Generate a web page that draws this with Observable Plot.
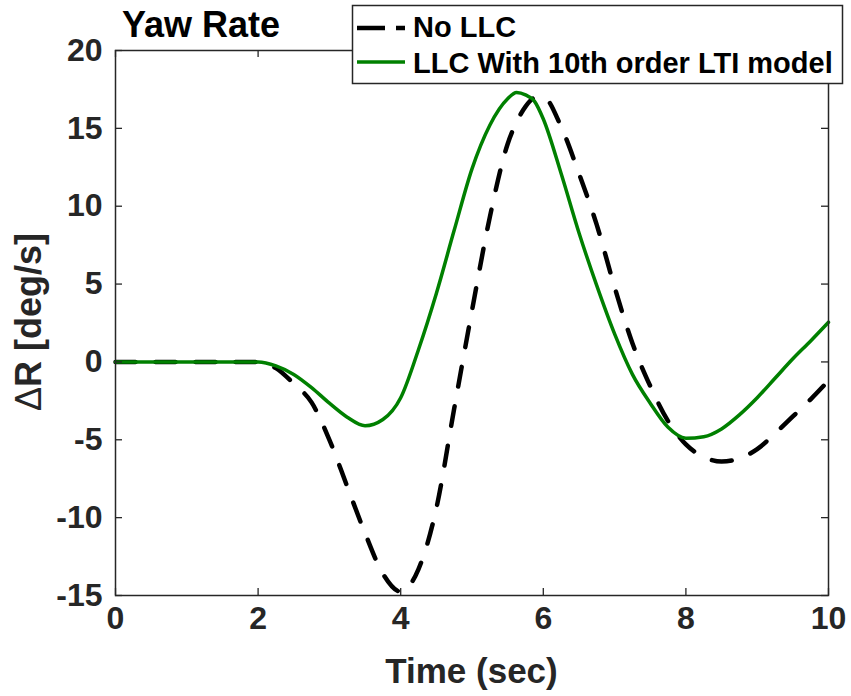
<!DOCTYPE html>
<html>
<head>
<meta charset="utf-8">
<script src="https://cdn.jsdelivr.net/npm/d3@7"></script>
<script src="https://cdn.jsdelivr.net/npm/@observablehq/plot@0.6"></script>
<style>
  html, body { margin: 0; padding: 0; background: #fff; }
  #chart { position: relative; width: 851px; height: 696px; }
  #chart svg { font-family: "Liberation Sans", Arial, Helvetica, sans-serif; }
</style>
</head>
<body>
<div id="chart"></div>
<script>
// Yaw-rate response (deg/s) over time (sec)
const time = [0, 1, 2, 2.25, 2.5, 2.75, 3, 3.25, 3.5, 3.75, 4, 4.25, 4.5, 4.75, 5, 5.25, 5.5, 5.625, 5.75, 5.875,
              6, 6.25, 6.5, 6.75, 7, 7.25, 7.5, 7.75, 8, 8.25, 8.5, 8.75, 9, 9.25, 9.5, 9.75, 10];
const noLLC = [0, 0, 0, -0.4, -1.4, -2.6, -5.0, -8.0, -11.0, -13.6, -14.75, -13.3, -9.4, -3.0, 3.3, 9.3, 14.0, 15.4, 16.4, 16.95,
               17.0, 15.1, 12.1, 8.8, 4.8, 1.2, -1.55, -3.8, -5.3, -6.1, -6.4, -6.2, -5.6, -4.6, -3.5, -2.4, -1.2];
const llcLTI = [0, 0, 0, -0.25, -0.8, -1.65, -2.65, -3.55, -4.1, -3.7, -2.3, 0.8, 4.4, 8.45, 12.4, 15.2, 16.9, 17.3, 17.15, 16.75,
                15.6, 12.1, 8.3, 4.9, 1.8, -0.8, -2.65, -4.2, -4.9, -4.8, -4.3, -3.4, -2.3, -1.05, 0.2, 1.35, 2.55];

const seriesNames = ["No LLC", "LLC With 10th order LTI model"];
const xTicks = [0, 2, 4, 6, 8, 10];
const yTicks = [-15, -10, -5, 0, 5, 10, 15, 20];

const rowsNo = time.map((t, i) => ({time: t, value: noLLC[i]}));
const rowsLLC = time.map((t, i) => ({time: t, value: llcLTI[i]}));

const W = 851, H = 696;
const mL = 115, mR = 23, mT = 50, mB = 101;
const frameW = W - mL - mR, frameH = H - mT - mB;
const tickLen = 7;
const axisColor = "#262626";
const green = "#008000";

const chart = Plot.plot({
  width: W,
  height: H,
  marginLeft: mL,
  marginRight: mR,
  marginTop: mT,
  marginBottom: mB,
  x: {domain: [0, 10]},
  y: {domain: [-15, 20]},
  marks: [
    Plot.line(rowsNo, {x: "time", y: "value", stroke: "#000", strokeWidth: 4.5,
      strokeDasharray: "20,20", curve: "monotone-x"}),
    Plot.line(rowsLLC, {x: "time", y: "value", stroke: green, strokeWidth: 3.5, curve: "monotone-x"}),
    // inward ticks on all four sides
    Plot.tickY(yTicks, {y: d => d, stroke: axisColor, strokeWidth: 1.3, insetRight: frameW - tickLen}),
    Plot.tickY(yTicks, {y: d => d, stroke: axisColor, strokeWidth: 1.3, insetLeft: frameW - tickLen}),
    Plot.tickX(xTicks, {x: d => d, stroke: axisColor, strokeWidth: 1.3, insetTop: frameH - tickLen}),
    Plot.tickX(xTicks, {x: d => d, stroke: axisColor, strokeWidth: 1.3, insetBottom: frameH - tickLen}),
    Plot.frame({stroke: axisColor, strokeWidth: 1.5}),
    Plot.axisX({ticks: xTicks, tickSize: 0, tickPadding: 11, label: null, tickFormat: d => String(d),
      fontSize: 32, fontWeight: "bold", fill: axisColor}),
    Plot.axisY({ticks: yTicks, tickSize: 0, tickPadding: 13, label: null, tickFormat: d => String(d),
      fontSize: 32, fontWeight: "bold", fill: axisColor})
  ]
});

document.getElementById("chart").appendChild(chart);

const svg = d3.select(chart);
const font = `"Liberation Sans", Arial, Helvetica, sans-serif`;

// title
svg.append("text")
  .attr("x", 122).attr("y", 37)
  .attr("text-anchor", "start")
  .attr("font-family", font).attr("font-size", 36).attr("font-weight", "bold")
  .attr("fill", "#000")
  .text("Yaw Rate");

// x-axis title
svg.append("text")
  .attr("x", mL + frameW / 2).attr("y", 683)
  .attr("text-anchor", "middle")
  .attr("font-family", font).attr("font-size", 35).attr("font-weight", "bold")
  .attr("fill", axisColor)
  .text("Time (sec)");

// y-axis title
const yt = svg.append("text")
  .attr("transform", `translate(41,${mT + frameH / 2 - 0.5}) rotate(-90)`)
  .attr("text-anchor", "middle")
  .attr("font-family", font).attr("font-size", 36).attr("font-weight", "bold")
  .attr("fill", axisColor);
yt.append("tspan").attr("font-weight", "normal").text("\u0394");
yt.append("tspan").text("R [deg/s]");

// legend
const lg = svg.append("g");
lg.append("rect")
  .attr("x", 352.5).attr("y", 5.5).attr("width", 490).attr("height", 78)
  .attr("fill", "#fff").attr("stroke", axisColor).attr("stroke-width", 1.5);
const rows = [
  {name: seriesNames[0], stroke: "#000", dash: "28,11,9,100", width: 4.5, y: 28, base: 37},
  {name: seriesNames[1], stroke: green, dash: null, width: 3.5, y: 62, base: 72.5}
];
rows.forEach(r => {
  lg.append("line")
    .attr("x1", 357).attr("x2", 405).attr("y1", r.y).attr("y2", r.y)
    .attr("stroke", r.stroke).attr("stroke-width", r.width)
    .attr("stroke-dasharray", r.dash);
  lg.append("text")
    .attr("x", 413).attr("y", r.base)
    .attr("text-anchor", "start")
    .attr("font-family", font).attr("font-size", 29).attr("font-weight", "bold")
    .attr("fill", "#000")
    .text(r.name);
});
</script>
</body>
</html>
